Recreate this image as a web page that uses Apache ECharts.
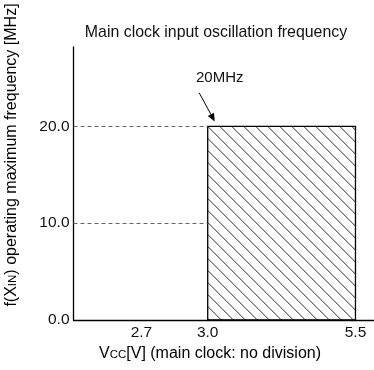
<!DOCTYPE html>
<html>
<head>
<meta charset="utf-8">
<script src="https://cdn.jsdelivr.net/npm/echarts@6/dist/echarts.min.js"></script>
<style>
  html, body { margin: 0; padding: 0; background: #fff; }
  #chart { width: 374px; height: 370px; }
</style>
</head>
<body>
<div id="chart"></div>
<script>
// Supply voltage ticks on the horizontal axis [V]
const voltageTicks = [2.7, 3.0, 5.5];
const voltageTickLabels = ['2.7', '3.0', '5.5'];
// Frequency ticks on the vertical axis [MHz]
const freqTicks = [0, 10, 20];
const freqTickLabels = ['0.0', '10.0', '20.0'];
// Guaranteed operating area: supply voltage range and maximum frequency
const operatingVcc = [3.0, 5.5];
const operatingMaxMHz = 20;
// Dashed reference levels, drawn up to the minimum operating voltage
const guideLevels = [20, 10];
const annotationText = '20MHz';

// The voltage axis is not linear: the section below 3.0 V is drawn stretched.
// Anchor voltages and the axis positions they are placed at.
const scaleAnchorsV = [0, 2.7, 3.0, 5.5];
const scaleAnchorsPos = [0, 1.15, 2.271, 4.771];
const xAxisEnd = 5.076;
const yAxisEnd = 28.2;

function vToAxis(v) {
  const a = scaleAnchorsV, p = scaleAnchorsPos;
  let i = 0;
  while (i < a.length - 2 && v > a[i + 1]) i++;
  return p[i] + (v - a[i]) * (p[i + 1] - p[i]) / (a[i + 1] - a[i]);
}

const FONT = 'Liberation Sans, Arial, Helvetica, sans-serif';
const chart = echarts.init(document.getElementById('chart'), null, { renderer: 'canvas' });

const xTickPos = voltageTicks.map(vToAxis);

// Hatched rectangle for the operating area
function renderArea(params, api) {
  const tl = api.coord([vToAxis(api.value(0)), api.value(2)]);
  const br = api.coord([vToAxis(api.value(1)), 0]);
  const x0 = tl[0], y0 = tl[1], x1 = br[0], y1 = br[1];
  const children = [];
  const step = 12;
  const c0 = y0 - x0;
  // lines y = x + c, clipped to the rectangle
  for (let k = -Math.ceil((x1 - x0) / step) - 1; k * step <= (y1 - y0) + step; k++) {
    const c = c0 + k * step;
    const lo = Math.max(x0, y0 - c);
    const hi = Math.min(x1, y1 - c);
    if (hi - lo > 0.5) {
      children.push({
        type: 'line',
        shape: { x1: lo, y1: lo + c, x2: hi, y2: hi + c },
        style: { stroke: '#333', lineWidth: 1 }
      });
    }
  }
  children.push({
    type: 'rect',
    shape: { x: x0, y: y0, width: x1 - x0, height: y1 - y0 },
    style: { fill: null, stroke: '#000', lineWidth: 1.3 }
  });
  return { type: 'group', children };
}

const option = {
  animation: false,
  backgroundColor: '#fff',
  grid: { left: 73.5, right: 0.5, top: 47, bottom: 50, containLabel: false },
  xAxis: {
    type: 'value',
    min: 0,
    max: xAxisEnd,
    axisLine: { show: true, onZero: false, lineStyle: { color: '#000', width: 1.3 } },
    axisTick: { show: false },
    splitLine: { show: false },
    axisLabel: {
      customValues: xTickPos,
      margin: 5,
      color: '#111',
      fontFamily: FONT,
      fontSize: 15.5,
      formatter: function (val) {
        let best = 0;
        xTickPos.forEach(function (p, i) {
          if (Math.abs(p - val) < Math.abs(xTickPos[best] - val)) best = i;
        });
        return voltageTickLabels[best];
      }
    }
  },
  yAxis: {
    type: 'value',
    min: 0,
    max: yAxisEnd,
    axisLine: { show: true, onZero: false, lineStyle: { color: '#000', width: 1.3 } },
    axisTick: { show: false },
    splitLine: { show: false },
    axisLabel: {
      customValues: freqTicks,
      margin: 4,
      color: '#111',
      fontFamily: FONT,
      fontSize: 15.5,
      formatter: function (val) {
        const i = freqTicks.indexOf(val);
        return i >= 0 ? freqTickLabels[i] : '';
      }
    }
  },
  series: [
    {
      type: 'custom',
      renderItem: renderArea,
      data: [[operatingVcc[0], operatingVcc[1], operatingMaxMHz]],
      silent: true,
      clip: false,
      z: 3,
      markLine: {
        silent: true,
        symbol: ['none', 'none'],
        label: { show: false },
        lineStyle: { color: '#666', type: [4, 3], width: 1 },
        data: guideLevels.map(function (f) {
          return [{ coord: [0, f] }, { coord: [vToAxis(operatingVcc[0]), f] }];
        })
      }
    }
  ]
};

chart.setOption(option);

// Annotation arrow pointing at the top-left corner of the operating area
const corner = chart.convertToPixel({ gridIndex: 0 }, [vToAxis(operatingVcc[0]), operatingMaxMHz]);
const tip = [corner[0] + 7, corner[1] - 5];
const tail = [corner[0] - 8.5, corner[1] - 33.5];
const dx = tip[0] - tail[0], dy = tip[1] - tail[1];
const len = Math.sqrt(dx * dx + dy * dy);
const ux = dx / len, uy = dy / len;
const headLen = 8, headHalf = 3.5;
const base = [tip[0] - ux * headLen, tip[1] - uy * headLen];

const nameRich = {
  n: { fontFamily: FONT, fontSize: 16, color: '#111', verticalAlign: 'bottom' },
  s: { fontFamily: FONT, fontSize: 11.5, color: '#111', verticalAlign: 'bottom', padding: [0, 0, 1, 0] }
};

chart.setOption({
  graphic: [
    {
      type: 'text',
      silent: true,
      x: 216,
      y: 33,
      style: {
        text: 'Main clock input oscillation frequency',
        align: 'center',
        verticalAlign: 'middle',
        font: '15.9px ' + FONT,
        fill: '#111'
      }
    },
    {
      type: 'line',
      silent: true,
      shape: { x1: tail[0], y1: tail[1], x2: base[0], y2: base[1] },
      style: { stroke: '#000', lineWidth: 1 }
    },
    {
      type: 'polygon',
      silent: true,
      shape: {
        points: [
          tip,
          [base[0] - uy * headHalf, base[1] + ux * headHalf],
          [base[0] + uy * headHalf, base[1] - ux * headHalf]
        ]
      },
      style: { fill: '#000' }
    },
    {
      type: 'text',
      silent: true,
      x: corner[0] + 12,
      y: corner[1] - 48.5,
      style: {
        text: annotationText,
        align: 'center',
        verticalAlign: 'middle',
        font: '15px ' + FONT,
        fill: '#111'
      }
    },
    {
      type: 'text',
      silent: true,
      x: 210,
      y: 354,
      style: {
        text: '{n|V}{s|CC}{n|[V] (main clock: no division)}',
        align: 'center',
        verticalAlign: 'middle',
        rich: nameRich
      }
    },
    {
      type: 'text',
      silent: true,
      x: 12,
      y: 155,
      rotation: Math.PI / 2,
      style: {
        text: '{n|f(X}{s|IN}{n|) operating maximum frequency [MHz]}',
        align: 'center',
        verticalAlign: 'middle',
        rich: nameRich
      }
    }
  ]
});
</script>
</body>
</html>
